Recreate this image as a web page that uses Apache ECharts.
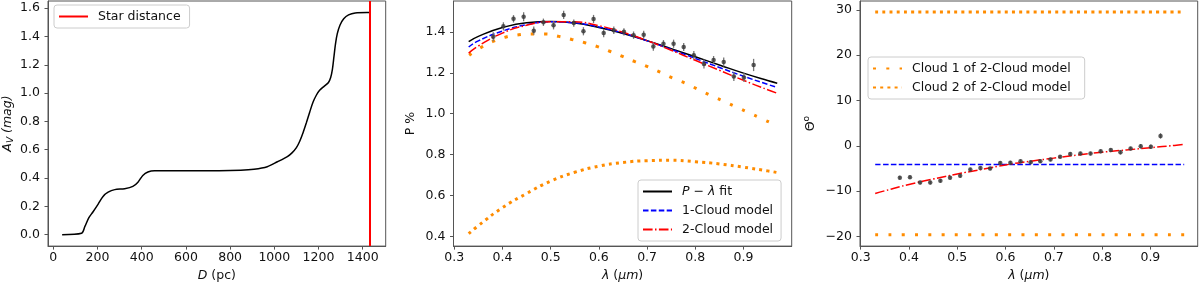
<!DOCTYPE html>
<html><head><meta charset="utf-8">
<script src="https://cdn.jsdelivr.net/npm/echarts@6/dist/echarts.min.js"></script>
<style>html,body{margin:0;padding:0;background:#fff}#c{width:1200px;height:287px}</style>
</head><body><div id="c"></div>
<script>
// ---- Panel 1: extinction vs distance ----
const avDist = [40,128,143,161,180,203,225,248,278,323,360,383,405,428,458,550,650,750,848,908,968,1014,1059,1080,1100,1115,1130,1145,1160,1175,1190,1205,1225,1245,1255,1263,1270,1277,1285,1297,1314,1336,1366,1419,1433];
const avMag  = [0.000,0.010,0.058,0.120,0.162,0.216,0.270,0.300,0.318,0.325,0.341,0.371,0.418,0.443,0.452,0.452,0.452,0.452,0.455,0.462,0.480,0.515,0.552,0.578,0.615,0.660,0.720,0.790,0.865,0.935,0.985,1.020,1.048,1.075,1.110,1.170,1.260,1.350,1.420,1.480,1.525,1.553,1.567,1.570,1.570];
const starDist = 1433;
const distTicks = [0,200,400,600,800,1000,1200,1400];
const avTicks = [0,0.2,0.4,0.6,0.8,1.0,1.2,1.4,1.6];

// ---- observed wavelengths ----
const lam = [0.381,0.402,0.423,0.444,0.465,0.485,0.506,0.527,0.548,0.568,0.589,0.610,0.631,0.652,0.672,0.693,0.713,0.734,0.755,0.776,0.797,0.818,0.838,0.859,0.880,0.901,0.921];

// ---- Panel 2: polarization ----
const pObs = [1.376,1.427,1.464,1.474,1.406,1.447,1.432,1.483,1.443,1.403,1.463,1.394,1.408,1.400,1.384,1.386,1.328,1.342,1.342,1.326,1.286,1.243,1.262,1.252,1.182,1.177,1.238];
const pErr = [0.022,0.020,0.018,0.022,0.020,0.018,0.020,0.020,0.018,0.020,0.020,0.020,0.018,0.018,0.018,0.020,0.020,0.018,0.020,0.020,0.020,0.022,0.020,0.022,0.022,0.022,0.030];
const modelLam = [0.33,0.35,0.40,0.45,0.50,0.55,0.60,0.65,0.70,0.75,0.80,0.85,0.90,0.95,0.97];
const pFit    = [1.352,1.378,1.421,1.445,1.451,1.443,1.421,1.392,1.357,1.318,1.278,1.238,1.198,1.162,1.149];
const pOne    = [1.326,1.356,1.404,1.435,1.449,1.444,1.424,1.394,1.356,1.314,1.270,1.226,1.183,1.143,1.128];
const pTwo    = [1.296,1.331,1.394,1.432,1.450,1.449,1.430,1.398,1.357,1.310,1.261,1.212,1.163,1.117,1.100];
const c1Lam = [0.331,0.355,0.379,0.406,0.434,0.461,0.488,0.517,0.544,0.571,0.597,0.624,0.649,0.675,0.701,0.727,0.752,0.778,0.803,0.828,0.854,0.879,0.904,0.930,0.955,0.970];
const pCloud1 = [1.286,1.323,1.352,1.374,1.386,1.390,1.390,1.378,1.363,1.347,1.328,1.304,1.280,1.254,1.230,1.203,1.175,1.150,1.122,1.093,1.066,1.039,1.012,0.984,0.957,0.942];
const pCloud2 = [0.413,0.452,0.540,0.609,0.670,0.713,0.743,0.761,0.770,0.772,0.765,0.754,0.738,0.720,0.712];
const pTicks = [0.4,0.6,0.8,1.0,1.2,1.4];
const lamTicks = [0.3,0.4,0.5,0.6,0.7,0.8,0.9];

// ---- Panel 3: position angle ----
const thObs = [-7.0,-6.9,-8.1,-8.1,-7.7,-7.0,-6.6,-5.2,-4.9,-5.0,-3.8,-3.7,-3.4,-3.6,-3.4,-3.0,-2.4,-1.8,-1.7,-1.7,-1.2,-0.9,-1.4,-0.6,-0.1,-0.2,2.2];
const thErr = [0.4,0.4,0.4,0.4,0.4,0.4,0.4,0.4,0.4,0.4,0.4,0.4,0.4,0.4,0.4,0.4,0.4,0.4,0.4,0.4,0.4,0.4,0.5,0.4,0.5,0.5,0.6];
const thOne = [-4.1,-4.1];
const thOneLam = [0.33,0.97];
const thTwo = [-10.5,-9.9,-8.5,-7.3,-6.2,-5.2,-4.2,-3.4,-2.7,-2.0,-1.4,-0.9,-0.4,0.1,0.35];
const thCloud1 = [-19.6,-19.6];
const thCloud2 = [29.5,29.5];
const thTicks = [-20,-10,0,10,20,30];

const FONT = 'DejaVu Sans';
const FS = 12.5;
const AX = '#555';
const ORANGE = '#ff8c00';
const zip = (xs, ys) => xs.map((x, i) => [x, ys[i]]);

const RICH = {
  i: {fontFamily: FONT, fontSize: FS, fontStyle: 'italic', color: '#111'},
  n: {fontFamily: FONT, fontSize: FS, color: '#111'},
  sub: {fontFamily: FONT, fontSize: 9, fontStyle: 'italic', color: '#111', padding: [6, 0, 0, 0]},
  sup: {fontFamily: FONT, fontSize: 9, color: '#111', padding: [0, 0, 8, 0]}
};
function xAx(grid, min, max, ticks, fmt, name) {
  return {
    type: 'value', gridIndex: grid, min: min, max: max,
    splitLine: {show: false},
    axisLine: {show: true, onZero: false, lineStyle: {color: AX, width: 1}},
    axisTick: {show: true, customValues: ticks, length: 3.5, lineStyle: {color: AX}},
    axisLabel: {customValues: ticks, formatter: fmt, fontFamily: FONT, fontSize: FS, color: '#111', margin: 5},
    name: name, nameLocation: 'middle', nameGap: 22,
    nameTextStyle: {fontFamily: FONT, fontSize: FS, color: '#111', rich: RICH}
  };
}
function yAx(grid, min, max, ticks, fmt, name, gap) {
  return {
    type: 'value', gridIndex: grid, min: min, max: max,
    splitLine: {show: false},
    axisLine: {show: true, onZero: false, lineStyle: {color: AX, width: 1}},
    axisTick: {show: true, customValues: ticks, length: 3.5, lineStyle: {color: AX}},
    axisLabel: {customValues: ticks, formatter: fmt, fontFamily: FONT, fontSize: FS, color: '#111', margin: 8},
    name: name, nameLocation: 'middle', nameGap: gap, nameRotate: 90,
    nameTextStyle: {fontFamily: FONT, fontSize: FS, color: '#111', rich: RICH}
  };
}
const f1 = v => v.toFixed(1);
const fTh = v => v < 0 ? '\u2212' + Math.abs(v) : String(v);

const legendBase = {
  orient: 'vertical', borderColor: '#ccc', borderWidth: 1, borderRadius: 3,
  backgroundColor: 'rgba(255,255,255,0.8)', itemWidth: 29, itemHeight: 14, itemGap: 6,
  itemStyle: {opacity: 0},
  textStyle: {fontFamily: FONT, fontSize: FS, color: '#111', padding: [0, 0, 0, 5],
    rich: {i: {fontFamily: FONT, fontSize: FS, fontStyle: 'italic', color: '#111'}, n: {fontFamily: FONT, fontSize: FS, color: '#111'}}},
  selectedMode: false
};

function errSeries(xi, yi, xs, ys, es) {
  return {
    type: 'custom', xAxisIndex: xi, yAxisIndex: yi, z: 5,
    data: xs.map((x, i) => [x, ys[i], es[i]]),
    encode: {x: 0, y: 1},
    renderItem: (params, api) => {
      const x = api.value(0), y = api.value(1), e = api.value(2);
      const a = api.coord([x, y - e]), b = api.coord([x, y + e]);
      return {type: 'line', shape: {x1: a[0], y1: a[1], x2: b[0], y2: b[1]}, style: {stroke: '#777', lineWidth: 1.3}};
    }
  };
}
function lineS(name, xi, yi, data, color, width, type, z, sm) {
  return {name: name, type: 'line', xAxisIndex: xi, yAxisIndex: yi, data: data, symbol: 'none',
    smooth: sm === undefined ? 0.5 : sm,
    color: color, lineStyle: {color: color, width: width, type: type, cap: 'butt'}, z: z || 2};
}

const DASH = [5.5, 2.4];
const DASHDOT = [9.6, 2.4, 1.5, 2.4];
const DOT_SPARSE = [3, 10.3];
const DOT_DENSE = [3, 4.2];

const option = {
  animation: false,
  grid: [
    {left: 46.5, top: 1, width: 339.2, height: 249, show: true, borderColor: AX, borderWidth: 1},
    {left: 453.5, top: 1, width: 338.2, height: 249, show: true, borderColor: AX, borderWidth: 1},
    {left: 860, top: 1, width: 337.7, height: 249, show: true, borderColor: AX, borderWidth: 1}
  ],
  xAxis: [
    xAx(0, -24, 1504, distTicks, v => String(v), '{i|D} {n|(pc)}'),
    xAx(1, 0.2985, 1.0, lamTicks, f1, '{i|λ} {n|(}{i|μm}{n|)}'),
    xAx(2, 0.2985, 0.998, lamTicks, f1, '{i|λ} {n|(}{i|μm}{n|)}')
  ],
  yAxis: [
    yAx(0, -0.081, 1.651, avTicks, f1, '{i|A}{sub|V} {i|(mag)}', 33),
    yAx(1, 0.352, 1.551, pTicks, f1, '{n|P %}', 36),
    yAx(2, -22.1, 31.95, thTicks, fTh, '{n|Θ}{sup|o}', 41)
  ],
  legend: [
    Object.assign({}, legendBase, {left: 54, top: 5, padding: [5, 9, 5, 4], data: ['Star distance']}),
    Object.assign({}, legendBase, {left: 638, top: 180, padding: [5, 8, 5, 4],
      data: ['P-λ fit', '1-Cloud model', '2-Cloud model'],
      formatter: n => n === 'P-λ fit' ? '{i|P \u2212 λ} {n|fit}' : n}),
    Object.assign({}, legendBase, {left: 868, top: 57, padding: [5, 14, 5, 4],
      data: ['Cloud 1 of 2-Cloud model', 'Cloud 2 of 2-Cloud model']})
  ],
  series: [
    lineS('A_V', 0, 0, zip(avDist, avMag), '#000', 1.5, 'solid', 2, 0.3),
    {name: 'Star distance', type: 'line', xAxisIndex: 0, yAxisIndex: 0, data: [], symbol: 'none', color: '#ff0000',
      lineStyle: {color: '#ff0000', width: 2},
      markLine: {silent: true, symbol: 'none', label: {show: false}, lineStyle: {color: '#ff0000', width: 2, type: 'solid'},
        data: [{xAxis: starDist}]}},

    lineS('Cloud 1 of 2-Cloud model', 1, 1, zip(c1Lam, pCloud1), ORANGE, 3, DOT_SPARSE),
    lineS('Cloud 2 of 2-Cloud model', 1, 1, zip(modelLam, pCloud2), ORANGE, 3, DOT_DENSE),
    lineS('P-λ fit', 1, 1, zip(modelLam, pFit), '#000', 1.5, 'solid', 3),
    lineS('1-Cloud model', 1, 1, zip(modelLam, pOne), '#0000ff', 1.5, DASH, 3),
    lineS('2-Cloud model', 1, 1, zip(modelLam, pTwo), '#ff0000', 1.5, DASHDOT, 3),
    errSeries(1, 1, lam, pObs, pErr),
    {name: 'obsP', type: 'scatter', xAxisIndex: 1, yAxisIndex: 1, data: zip(lam, pObs), symbolSize: 4.5,
      itemStyle: {color: '#333'}, z: 6},

    lineS('Cloud 1 of 2-Cloud model', 2, 2, zip(thOneLam, thCloud1), ORANGE, 3, DOT_SPARSE),
    lineS('Cloud 2 of 2-Cloud model', 2, 2, zip(thOneLam, thCloud2), ORANGE, 3, DOT_DENSE),
    lineS('1-Cloud model', 2, 2, zip(thOneLam, thOne), '#0000ff', 1.5, DASH, 3),
    lineS('2-Cloud model', 2, 2, zip(modelLam, thTwo), '#ff0000', 1.5, DASHDOT, 3),
    errSeries(2, 2, lam, thObs, thErr),
    {name: 'obsTh', type: 'scatter', xAxisIndex: 2, yAxisIndex: 2, data: zip(lam, thObs), symbolSize: 4.5,
      itemStyle: {color: '#333'}, z: 6}
  ]
};
const chart = echarts.init(document.getElementById('c'), null, {renderer: 'canvas'});
chart.setOption(option);
</script>
</body></html>
